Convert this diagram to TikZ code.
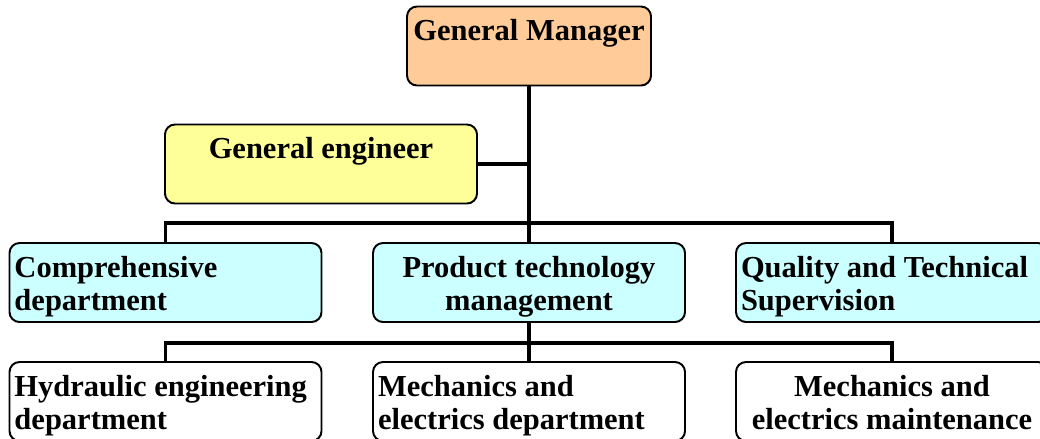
\documentclass[tikz,border=0pt]{standalone}
\usepackage{fontspec}
\setmainfont{Liberation Serif}
%% top-aligned text of a box: width, alignment, text
\newcommand{\boxtext}[3]{\parbox[t][19.75mm][t]{#1}{#2\rule{0pt}{8.6mm}#3}}
\newcommand{\lefttext}{\raggedright\leftskip=1.25mm\relax}
\begin{document}
\begin{tikzpicture}%
	[x=0.25mm,
	y=-0.25mm,
	box/.style={draw=black, line width=1.4pt, rounded corners=2.5mm, inner sep=0pt,
		font=\bfseries\fontsize{21.7pt}{23.8pt}\selectfont},
	topbox/.style={box, fill=topfill},
	engbox/.style={box, fill=engfill},
	deptbox/.style={box, fill=deptfill},
	unitbox/.style={box, fill=white},
	link/.style={draw=black, line width=2.7pt}]
%
\definecolor{topfill}{HTML}{FFCC99}
\definecolor{engfill}{HTML}{FFFF99}
\definecolor{deptfill}{HTML}{CCFFFF}
\useasboundingbox (0,0) rectangle (1040,438);
\clip (0,0) rectangle (1040,438);
%%
%% Drawing the boxes
%%
\node[topbox] (gm) at (529,46) {\boxtext{61mm}{\centering}{General Manager}};
\node[engbox] (ge) at (321,164) {\boxtext{78mm}{\centering}{General engineer}};
%
\node[deptbox] (comp) at (165.5,282.5) {\boxtext{78mm}{\lefttext}{Comprehensive\\department}};
\node[deptbox] (ptm) at (529,282.5) {\boxtext{78mm}{\centering}{Product technology\\management}};
\node[deptbox] (qts) at (892,282.5) {\boxtext{78mm}{\lefttext}{Quality and Technical\\Supervision}};
%
\node[unitbox] (hyd) at (165.5,401.5) {\boxtext{78mm}{\lefttext}{Hydraulic engineering\\department}};
\node[unitbox] (mech) at (529,401.5) {\boxtext{78mm}{\lefttext}{Mechanics and\\electrics department}};
\node[unitbox] (maint) at (892,401.5) {\boxtext{78mm}{\centering}{Mechanics and\\electrics maintenance}};
%%
%% Drawing the connectors
%%
\coordinate (busA) at (529,223);
\coordinate (busB) at (529,343);
\draw[link] (gm.south) -- (ptm.north);
\draw[link] (ge.east) -- (ge.east -| gm.south);
\draw[link] (comp.north) |- (busA) -| (qts.north);
\draw[link] (ptm.south) -- (mech.north);
\draw[link] (hyd.north) |- (busB) -| (maint.north);

\end{tikzpicture}
\end{document}
